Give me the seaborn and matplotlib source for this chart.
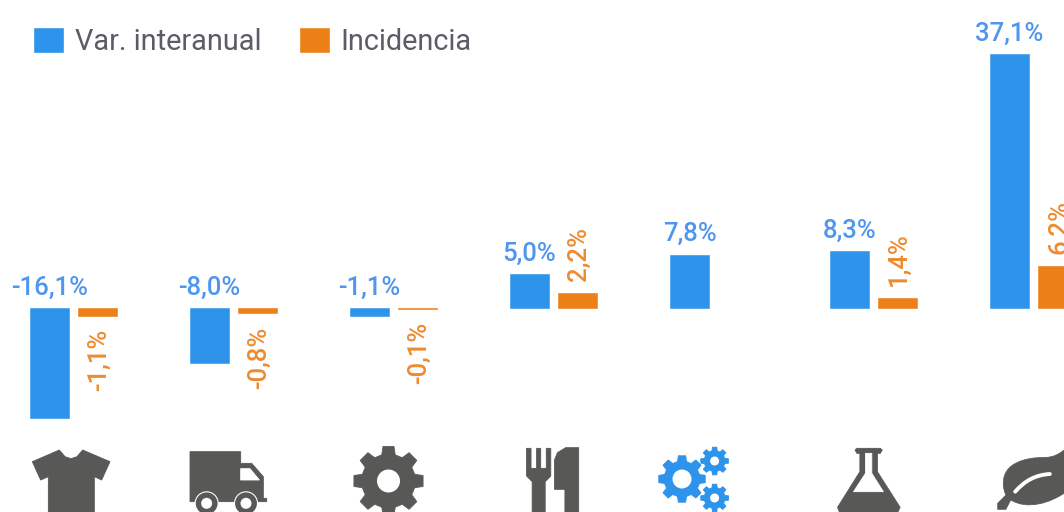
import numpy as np
import pandas as pd
import matplotlib
matplotlib.use("Agg")
import matplotlib.pyplot as plt
from matplotlib.patches import Circle, PathPatch, Polygon
from matplotlib.path import Path
from matplotlib.transforms import Affine2D
import seaborn as sns

categories = ["Textil", "Transporte", "Maquinaria", "Alimentos", "Industria", "Quimica", "Agro"]
var_interanual = [-16.1, -8.0, -1.1, 5.0, 7.8, 8.3, 37.1]
incidencia = [-1.1, -0.8, -0.1, 2.2, np.nan, 1.4, 6.2]
series_names = ["Var. interanual", "Incidencia"]

BLUE = "#2E93EA"
ORANGE = "#EC7F16"
BLUE_TEXT = "#4F96EE"
ORANGE_TEXT = "#EE8B30"
GREY = "#585857"
LEGEND_TEXT = "#5C5C68"

sns.set_style("white")
plt.rcParams["font.family"] = ["Roboto", "DejaVu Sans"]

df = pd.DataFrame({
    "categoria": categories * 2,
    "serie": [series_names[0]] * 7 + [series_names[1]] * 7,
    "valor": var_interanual + incidencia,
})

fig = plt.figure(figsize=(10.64, 5.12), dpi=100)
ax = fig.add_axes([0, 0, 1, 1])
sns.barplot(data=df, x="categoria", y="valor", hue="serie", hue_order=series_names,
            palette=[BLUE, ORANGE], saturation=1, width=0.6, gap=0.18, ax=ax)

# 160 px per group, first group centred on x=73.5; zero line at y=308, 6.85 px per point
ax.set_xlim(-73.5 / 160, (1064 - 73.5) / 160)
ax.set_ylim(-(512 - 308) / 6.85, 308 / 6.85)
ax.axis("off")


def fmt(v):
    return f"{v:.1f}%".replace(".", ",")


for container, color, rot in zip(ax.containers, [BLUE_TEXT, ORANGE_TEXT], [0, 90]):
    for patch in container:
        h = patch.get_height()
        if np.isnan(h):
            continue
        # thin edge so the -0,1% bar still shows
        patch.set_edgecolor(patch.get_facecolor())
        patch.set_linewidth(0.4)
        x = patch.get_x() + patch.get_width() / 2
        if rot == 0:
            ax.annotate(fmt(h), (x, max(h, 0)), xytext=(0, 6), textcoords="offset points",
                        ha="center", va="bottom", color=color, fontsize=18.5, fontweight="medium")
        else:
            off = -32 if h < 0 else 28
            ax.annotate(fmt(h), (x, h), xytext=(1, off), textcoords="offset points",
                        ha="center", va="center", rotation=90, color=color, fontsize=18.5, fontweight="medium")

handles, labels = ax.get_legend_handles_labels()
ax.legend(handles, labels, loc="upper left", bbox_to_anchor=(0.0035, 1.004), ncol=2, frameon=False,
          fontsize=20.8, labelcolor=LEGEND_TEXT, handlelength=1.1, handleheight=1.0,
          handletextpad=0.35, columnspacing=1.3, borderaxespad=0.6)

# icons live on an overlay in pixel coordinates
icons = fig.add_axes([0, 0, 1, 1], facecolor="none")
icons.set_xlim(0, 1064)
icons.set_ylim(512, 0)
icons.axis("off")


def poly(points, color=GREY, ox=0, sx=3):
    pts = [(ox + x / sx, 420 + y / 3) for x, y in points]
    icons.add_patch(Polygon(pts, closed=True, fc=color, ec=color, lw=0.6, joinstyle="round"))


def gear(cx, cy, r_out, r_body, r_hole, teeth=8, color=GREY):
    angles, radii = [], []
    step = 2 * np.pi / teeth
    for i in range(teeth):
        a = i * step - np.pi / 2
        angles += [a - step * 0.32, a - step * 0.2, a + step * 0.2, a + step * 0.32]
        radii += [r_body, r_out, r_out, r_body]
    pts = np.c_[cx + np.cos(angles) * np.array(radii), cy + np.sin(angles) * np.array(radii)]
    icons.add_patch(Polygon(pts, closed=True, fc=color, ec=color, lw=0.6, joinstyle="round"))
    icons.add_patch(Circle((cx, cy), r_body * 0.9, fc=color, ec="none"))
    icons.add_patch(Circle((cx, cy), r_hole, fc="white", ec="none"))


# t-shirt
poly([(178, 90), (195, 110), (213, 116), (231, 110), (248, 90), (330, 125), (305, 180), (283, 170),
      (283, 280), (145, 280), (145, 170), (122, 180), (97, 125)])

# truck
poly([(570, 95), (722, 95), (722, 130), (755, 130), (790, 170), (790, 235), (800, 235), (800, 245), (570, 245)])
poly([(722, 146), (750, 146), (778, 180), (722, 180)], color="white")
for wx in (620, 738):
    icons.add_patch(Circle((wx / 3, 420 + 250 / 3), 11.5, fc=GREY, ec="white", lw=0.8))
    icons.add_patch(Circle((wx / 3, 420 + 250 / 3), 5.5, fc="white", ec="none"))

# gear
gear(388.5, 481, 35, 27, 11.5)

# the crop of the right-hand icons read at 2.685 across, 3 down
SX = 2.685

# fork and knife
poly([(125, 85), (137, 85), (137, 145), (152, 145), (152, 85), (163, 85), (163, 145), (178, 145), (178, 85),
      (190, 85), (190, 168), (175, 185), (175, 280), (140, 280), (140, 185), (125, 168)], ox=480, sx=SX)
poly([(200, 120), (208, 98), (230, 83), (265, 83), (265, 280), (228, 280), (228, 208), (200, 208)], ox=480, sx=SX)

# blue gears
gear(682, 479, 23.5, 18, 9.5, color=BLUE)
gear(714.6, 461, 14, 10.5, 4.5, color=BLUE)
gear(714.6, 498, 14, 10.5, 4.5, color=BLUE)

# flask
poly([(1007, 90), (1012, 85), (1075, 85), (1080, 90), (1075, 100), (1067, 100), (1067, 155), (1128, 262),
      (1122, 276), (965, 276), (960, 262), (1020, 155), (1020, 100), (1012, 100)], ox=480, sx=SX)
poly([(1035, 100), (1052, 100), (1052, 160), (1083, 215), (1003, 215), (1035, 160)], color="white", ox=480, sx=SX)

# leaf, runs off the right edge
to_px = Affine2D().scale(1 / SX, 1 / 3).translate(480, 420)
leaf = Path([(1568, 90), (1545, 112), (1520, 112), (1460, 112), (1405, 130), (1405, 190), (1405, 205), (1408, 215),
             (1412, 225), (1390, 250), (1390, 268), (1412, 268), (1425, 240), (1470, 270), (1530, 250), (1575, 215),
             (1575, 90)],
            [Path.MOVETO, Path.CURVE3, Path.CURVE3, Path.CURVE4, Path.CURVE4, Path.CURVE4, Path.CURVE4, Path.CURVE4,
             Path.CURVE4, Path.LINETO, Path.LINETO, Path.LINETO, Path.LINETO, Path.CURVE4, Path.CURVE4, Path.CURVE4,
             Path.LINETO]).transformed(to_px)
icons.add_patch(PathPatch(leaf, fc=GREY, ec=GREY, lw=0.5))
vein = Path([(1437, 215), (1475, 165), (1530, 162)], [Path.MOVETO, Path.CURVE3, Path.CURVE3]).transformed(to_px)
icons.add_patch(PathPatch(vein, fc="none", ec="white", lw=2.8, capstyle="round"))

fig.savefig("out.png", dpi=100)
